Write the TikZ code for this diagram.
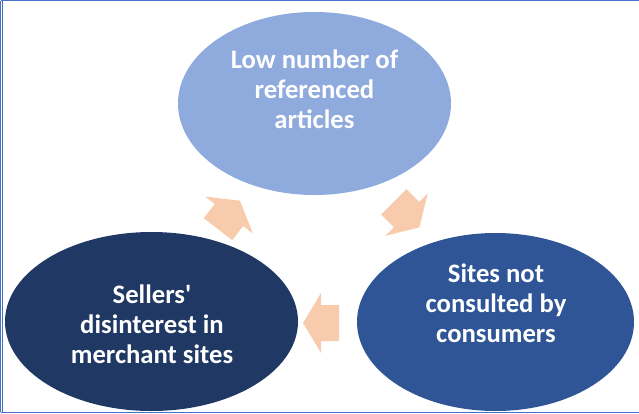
\documentclass[tikz,border=0pt]{standalone}
\usepackage{fontspec}
\setmainfont{Carlito}[Ligatures=TeXOff]
\usetikzlibrary{shapes.geometric}

\definecolor{paleblue}{HTML}{8FAADC}
\definecolor{navyblue}{HTML}{203864}
\definecolor{midblue}{HTML}{2F5597}
\definecolor{peach}{HTML}{F8CBAD}
\definecolor{frameblue}{HTML}{4472C4}

\tikzset{
  bubble/.style={ellipse, draw=none, inner sep=0pt},
  caption/.style={text=white, align=center, inner sep=0pt,
    font=\bfseries\fontsize{20}{22.5}\selectfont},
  cyclearrow/.pic={
    \fill[peach] (0,0) -- (-18,30) -- (-18,18) -- (-36,18)
      -- (-36,-18) -- (-18,-18) -- (-18,-30) -- cycle;
  },
}

\begin{document}
\begin{tikzpicture}[x=0.75pt, y=-0.75pt]
  \useasboundingbox (0,0) rectangle (639,414);

  % outer frame
  \draw[frameblue, line width=0.8pt] (0.6,0.6) -- (645,0.6);
  \draw[frameblue, line width=0.8pt] (0.6,412.3) -- (645,412.3);
  \draw[frameblue, line width=0.6pt] (0.6,0.6) -- (0.6,412.3);
  \draw[frameblue, line width=0.6pt] (2.8,0.6) -- (2.8,412.3);

  % the three stages of the cycle
  \node[bubble, fill=paleblue, minimum width=204.75pt, minimum height=137.25pt]
    (low) at (314.5,103.5) {};
  \node[bubble, fill=midblue, minimum width=207.75pt, minimum height=133.5pt]
    (sites) at (495.5,322) {};
  \node[bubble, fill=navyblue, minimum width=219.75pt, minimum height=134.25pt]
    (sellers) at (151.5,321.5) {};

  \node[caption] (lowtext) at (314.5,89) {Low number of\\referenced\\articles};
  \node[caption] (sitestext) at (496,303) {Sites not\\consulted by\\consumers};
  \node[caption] (sellerstext) at (152,324) {Sellers'\\disinterest in\\merchant sites};

  % block arrows between the stages
  \pic[rotate=-45] (low-sites) at (419.3,227.3) {cyclearrow};
  \pic[rotate=180] (sites-sellers) at (303,323) {cyclearrow};
  \pic[rotate=52.3] (sellers-low) at (240,200.7) {cyclearrow};
\end{tikzpicture}
\end{document}
